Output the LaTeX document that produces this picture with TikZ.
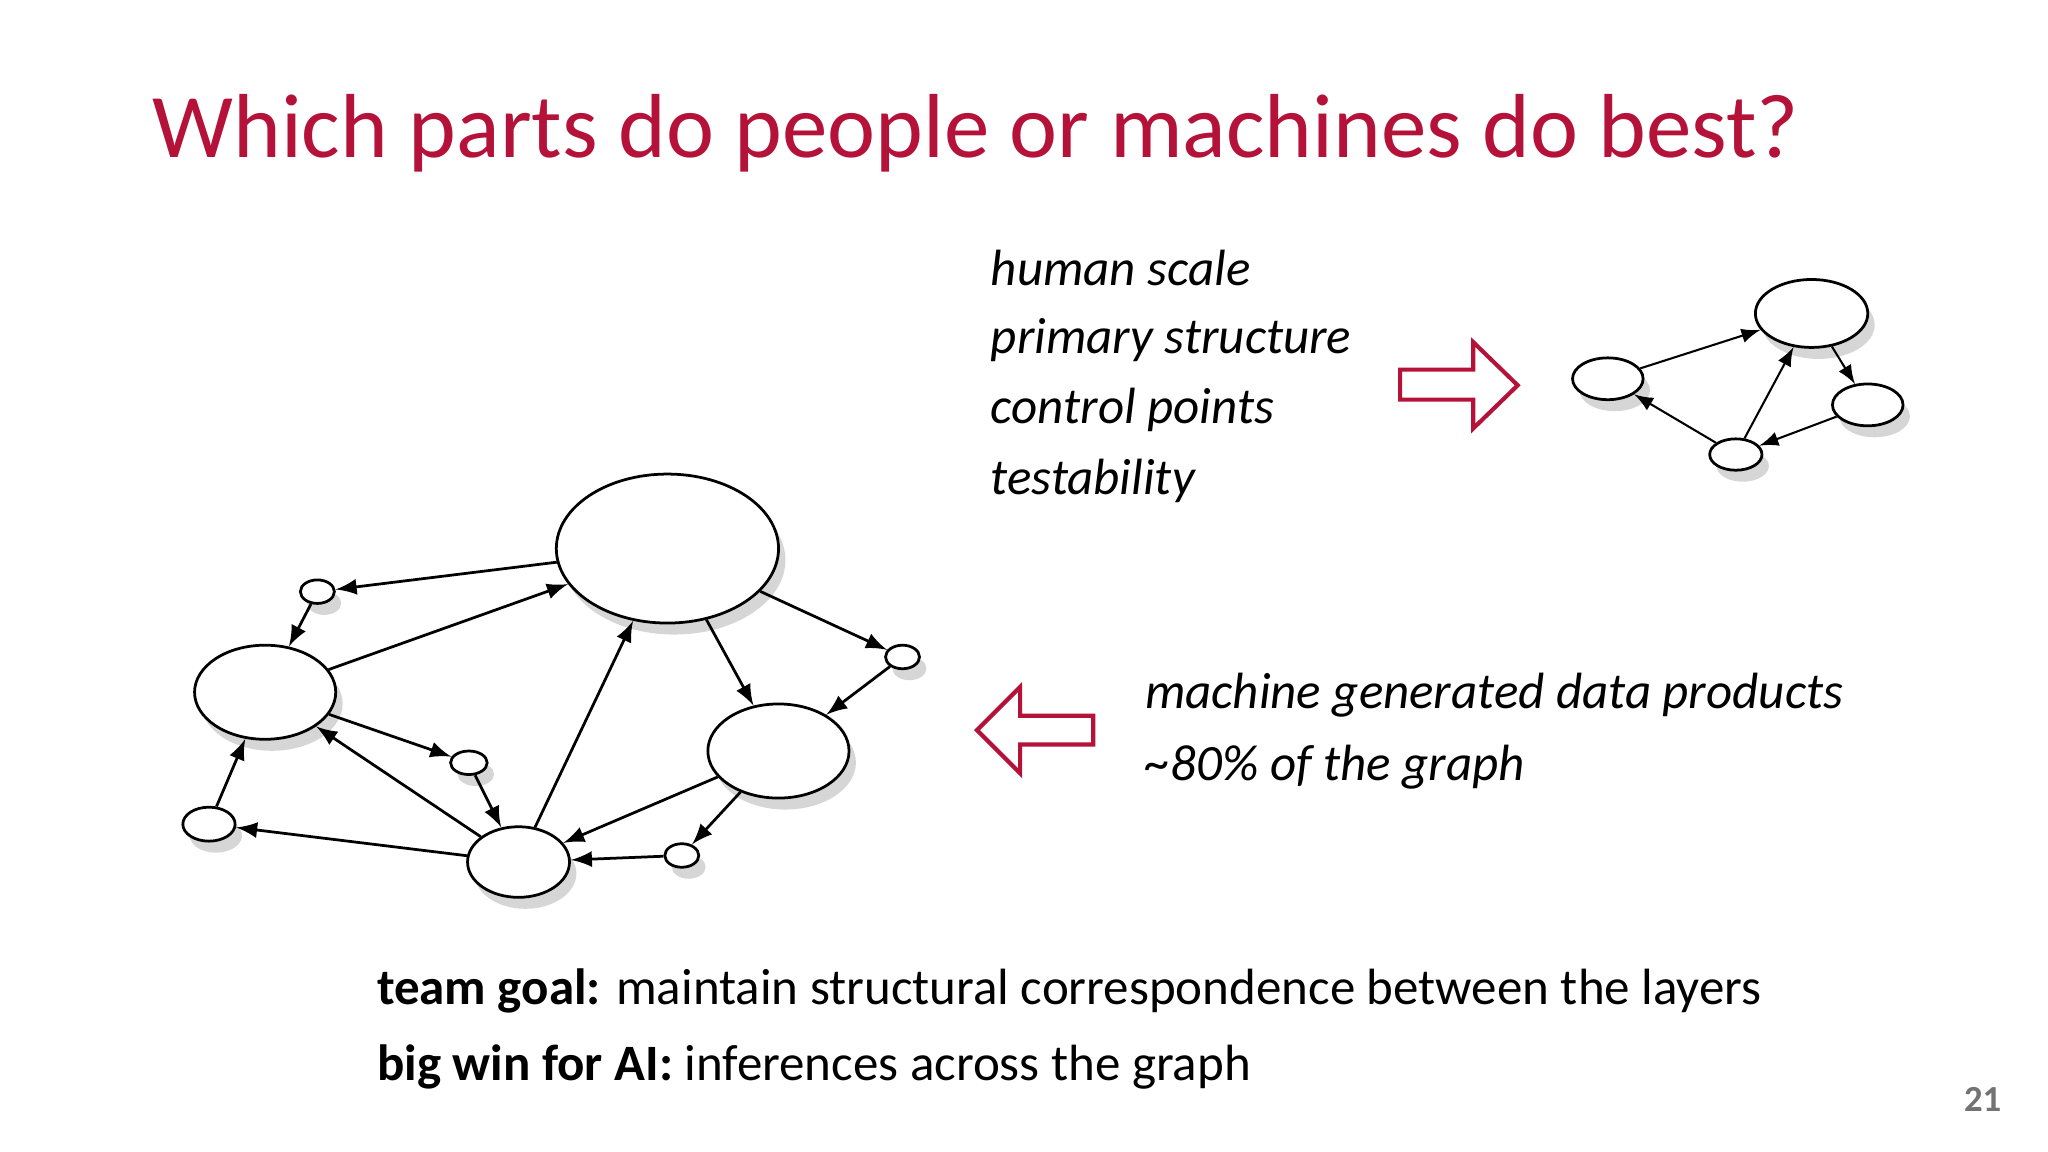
\documentclass[tikz,border=0pt]{standalone}
\usepackage{fontspec}
\setmainfont{Carlito}
\usetikzlibrary{shadows,shapes.geometric}
\definecolor{crim}{HTML}{B5123A}
\begin{document}
\begin{tikzpicture}[x=0.01cm,y=-0.01cm,
  gn/.style={ellipse,draw,line width=0.6pt,fill=white,inner sep=0pt,drop shadow={shadow xshift=1.5pt,shadow yshift=-2.5pt,fill=black!35,opacity=0.45}},
  ed/.style={-latex,line width=0.6pt},
  sed/.style={-latex,line width=0.45pt},
  bigarrow/.style={draw=crim,line width=0.9pt,fill=white,line join=miter},
  it/.style={anchor=west,font=\fontsize{11.1}{13}\selectfont\itshape,inner sep=0pt}]
\useasboundingbox (0,0) rectangle (1568,882);
\fill[white] (0,0) rectangle (1568,882);
\node[anchor=west,text=crim,inner sep=0pt,font=\fontsize{19.8}{23}\selectfont] (title) at (116,102) {Which parts do people or machines do best?};
% big graph
\def\gnode#1#2#3#4#5{\node[gn,minimum width=#4*0.02cm,minimum height=#5*0.02cm] (#1) at (#2,#3) {};}
\gnode{A}{511}{420}{85}{57}
\gnode{B}{203}{530}{54}{36}
\gnode{C}{243}{453}{13}{9}
\gnode{D}{691}{503}{13}{9}
\gnode{E}{596}{575}{54}{36}
\gnode{F}{359}{584}{14}{9}
\gnode{G}{160}{631}{20}{13}
\gnode{H}{397}{660}{39}{27}
\gnode{I}{522}{655}{13}{9}
\foreach \a/\b in {A/C,C/B,B/A,A/D,D/E,A/E,H/A,B/F,F/H,H/B,H/G,G/B,E/H,E/I,I/H}
  \draw[ed] (\a) -- (\b);
% small graph
\gnode{P}{1231}{290}{27}{16}
\gnode{Q}{1387}{240}{43}{26}
\gnode{R}{1430}{310}{27}{16}
\gnode{S}{1329}{348}{20}{12}
\foreach \a/\b in {P/Q,Q/R,S/Q,S/P,R/S}
  \draw[sed] (\a) -- (\b);
% arrows
\draw[bigarrow] (1072,283) -- (1128,283) -- (1128,262) -- (1162,295) -- (1128,328) -- (1128,306) -- (1072,306) -- cycle;
\draw[bigarrow] (837,548) -- (781,548) -- (781,526) -- (748,559) -- (781,592) -- (781,570) -- (837,570) -- cycle;
% texts
\node[it] (t1) at (758,205) {human scale};
\node[it] (t2) at (758,260) {primary structure};
\node[it] (t3) at (758,314) {control points};
\node[it] (t4) at (758,368) {testability};
\node[it] (m1) at (876,532) {machine generated data products};
\node[it] (m2) at (876,587) {\char`~80\% of the graph};
\node[anchor=west,inner sep=0pt,font=\fontsize{11.1}{13}\selectfont] (b1) at (288,759) {\textbf{team goal:} maintain structural correspondence between the layers};
\node[anchor=west,inner sep=0pt,font=\fontsize{11.1}{13}\selectfont] (b2) at (288,817) {\textbf{big win for AI:} inferences across the graph};
\node[text=black!55,font=\fontsize{8}{10}\selectfont\bfseries,inner sep=0pt] (pg) at (1518,842) {21};
\end{tikzpicture}
\end{document}
